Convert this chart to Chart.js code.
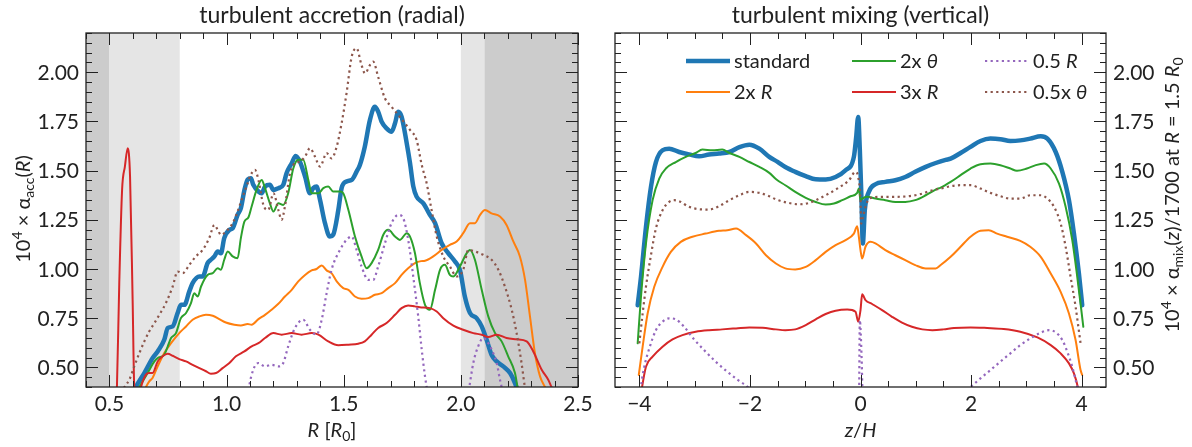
<!DOCTYPE html>
<html>
<head>
<meta charset="utf-8">
<script src="https://cdn.jsdelivr.net/npm/chart.js@4.4.1/dist/chart.umd.min.js"></script>
<style>
  body { margin: 0; background: #fff; width: 1192px; height: 447px; overflow: hidden; position: relative; }
  canvas { position: absolute; top: 0; }
  #accChart { left: 0; }
  #mixChart { left: 596px; }
</style>
</head>
<body>
<canvas id="accChart" width="596" height="447"></canvas>
<canvas id="mixChart" width="596" height="447"></canvas>
<script>
// ---------- left panel: turbulent accretion vs R ----------
const accStdR = [0.59,0.613,0.649,0.684,0.706,0.734,0.749,0.770,0.791,0.805,0.820,0.841,0.855,0.884,0.898,0.919,0.933,0.948,0.962,0.976,0.990,1.012,1.026,1.047,1.061,1.076,1.090,1.104,1.114,1.136,1.150,1.164,1.185,1.200,1.221,1.242,1.256,1.278,1.295,1.313,1.335,1.356,1.370,1.384,1.399,1.420,1.441,1.455,1.477,1.491,1.512,1.534,1.555,1.569,1.590,1.612,1.633,1.647,1.662,1.683,1.704,1.719,1.733,1.747,1.769,1.783,1.797,1.811,1.840,1.868,1.890,1.918,1.946,1.975,1.996,2.017,2.039,2.067,2.089,2.110,2.131,2.153,2.181,2.210,2.231,2.245];
const accStdV = [0.33,0.40,0.471,0.547,0.581,0.640,0.700,0.708,0.776,0.818,0.818,0.886,0.928,0.962,0.962,1.030,1.047,1.064,1.089,1.080,1.157,1.199,1.207,1.275,1.309,1.400,1.455,1.461,1.428,1.394,1.385,1.419,1.428,1.402,1.411,1.428,1.487,1.538,1.575,1.546,1.470,1.385,1.411,1.419,1.351,1.233,1.165,1.174,1.300,1.411,1.445,1.453,1.495,1.529,1.622,1.758,1.825,1.800,1.749,1.715,1.698,1.741,1.800,1.775,1.639,1.538,1.420,1.368,1.334,1.275,1.233,1.131,1.081,1.038,0.996,0.860,0.776,0.750,0.708,0.640,0.564,0.530,0.505,0.471,0.420,0.37];

const acc2xRR = [0.645,0.656,0.670,0.684,0.706,0.734,0.763,0.798,0.827,0.855,0.884,0.912,0.941,0.969,0.997,1.033,1.061,1.090,1.107,1.136,1.164,1.192,1.221,1.249,1.278,1.306,1.335,1.363,1.384,1.406,1.427,1.448,1.470,1.498,1.520,1.548,1.576,1.605,1.633,1.662,1.690,1.719,1.747,1.775,1.804,1.830,1.847,1.882,1.918,1.953,1.982,2.010,2.039,2.060,2.082,2.103,2.131,2.167,2.195,2.224,2.252,2.274,2.295,2.316,2.338,2.359,2.37];
const acc2xRV = [0.37,0.40,0.429,0.446,0.505,0.573,0.623,0.674,0.708,0.742,0.759,0.767,0.762,0.745,0.728,0.717,0.713,0.720,0.717,0.745,0.767,0.793,0.823,0.860,0.894,0.937,0.970,0.993,1.000,1.018,0.993,0.979,0.937,0.903,0.894,0.860,0.849,0.852,0.869,0.877,0.903,0.928,0.970,1.004,1.030,1.040,1.042,1.064,1.097,1.123,1.140,1.182,1.233,1.233,1.275,1.300,1.283,1.267,1.224,1.140,1.064,0.945,0.759,0.573,0.454,0.40,0.37];

const acc2xThR = [0.615,0.628,0.663,0.692,0.706,0.734,0.749,0.763,0.784,0.805,0.827,0.848,0.862,0.877,0.891,0.919,0.941,0.962,0.976,0.990,1.005,1.026,1.047,1.061,1.076,1.093,1.107,1.128,1.150,1.164,1.185,1.200,1.221,1.242,1.263,1.285,1.306,1.327,1.349,1.363,1.392,1.413,1.434,1.455,1.484,1.498,1.520,1.548,1.576,1.598,1.619,1.647,1.669,1.690,1.719,1.740,1.769,1.783,1.804,1.825,1.847,1.868,1.890,1.911,1.932,1.953,1.968,1.996,2.025,2.039,2.060,2.089,2.117,2.146,2.174,2.202,2.231,2.242,2.25];
const acc2xThV = [0.37,0.40,0.471,0.530,0.547,0.564,0.607,0.649,0.674,0.750,0.776,0.827,0.877,0.860,0.911,0.970,0.979,1.004,0.996,1.047,1.089,1.064,1.055,1.157,1.241,1.262,1.318,1.402,1.453,1.411,1.334,1.292,1.334,1.326,1.385,1.512,1.555,1.555,1.453,1.385,1.385,1.411,1.419,1.394,1.394,1.385,1.300,1.165,1.064,1.004,1.030,1.097,1.174,1.199,1.165,1.148,1.182,1.165,1.081,0.928,0.818,0.793,0.894,0.996,1.021,0.970,0.962,1.013,1.081,1.097,1.047,0.894,0.759,0.674,0.632,0.556,0.471,0.40,0.36];

const acc3xRR = [0.52,0.532,0.542,0.554,0.566,0.578,0.588,0.599,0.606,0.62,0.635,0.656,0.670,0.684,0.706,0.727,0.749,0.770,0.798,0.827,0.855,0.884,0.912,0.933,0.955,0.983,1.012,1.040,1.076,1.107,1.136,1.164,1.200,1.235,1.278,1.320,1.363,1.392,1.434,1.477,1.520,1.562,1.590,1.619,1.647,1.683,1.719,1.747,1.775,1.804,1.825,1.868,1.897,1.925,1.968,2.010,2.053,2.089,2.117,2.153,2.195,2.238,2.281,2.309,2.345,2.373,2.387,2.40];
const acc3xRV = [0.25,0.40,0.928,1.402,1.521,1.614,1.470,0.843,0.40,0.30,0.40,0.463,0.471,0.471,0.530,0.556,0.569,0.559,0.542,0.530,0.513,0.496,0.480,0.468,0.471,0.496,0.522,0.556,0.581,0.607,0.623,0.649,0.674,0.666,0.674,0.666,0.674,0.666,0.632,0.612,0.615,0.620,0.632,0.666,0.700,0.725,0.767,0.801,0.815,0.810,0.806,0.801,0.784,0.750,0.712,0.691,0.674,0.666,0.654,0.666,0.649,0.643,0.632,0.581,0.488,0.437,0.40,0.37];

const acc05RR = [1.085,1.096,1.114,1.136,1.164,1.192,1.221,1.242,1.263,1.292,1.327,1.356,1.384,1.406,1.427,1.448,1.484,1.512,1.534,1.555,1.576,1.605,1.626,1.647,1.676,1.704,1.733,1.754,1.775,1.797,1.818,1.833,1.847,1.854,1.87,1.95,2.02,2.036,2.053,2.074,2.096,2.117,2.138,2.153,2.167,2.174,2.19];
const acc05RV = [0.30,0.40,0.488,0.522,0.505,0.513,0.505,0.522,0.607,0.700,0.742,0.691,0.666,0.742,0.877,0.996,1.097,1.148,1.165,1.097,1.013,0.945,0.945,1.013,1.131,1.233,1.275,1.258,1.150,0.960,0.759,0.590,0.454,0.40,0.30,0.20,0.30,0.40,0.522,0.607,0.649,0.623,0.573,0.522,0.437,0.40,0.30];

const acc05ThR = [0.55,0.564,0.585,0.606,0.628,0.649,0.670,0.692,0.713,0.741,0.770,0.791,0.813,0.841,0.869,0.898,0.926,0.948,0.962,0.976,0.997,1.026,1.047,1.069,1.090,1.100,1.121,1.136,1.157,1.178,1.200,1.221,1.235,1.249,1.271,1.292,1.313,1.335,1.356,1.377,1.399,1.427,1.448,1.470,1.491,1.512,1.534,1.555,1.576,1.591,1.612,1.626,1.647,1.676,1.704,1.733,1.761,1.783,1.811,1.833,1.854,1.875,1.897,1.925,1.953,1.982,2.010,2.032,2.060,2.096,2.131,2.160,2.188,2.217,2.238,2.259,2.273,2.28];
const acc05ThV = [0.37,0.40,0.437,0.505,0.573,0.632,0.683,0.725,0.767,0.827,0.911,0.987,0.979,1.021,1.064,1.097,1.157,1.224,1.199,1.174,1.190,1.233,1.292,1.368,1.436,1.470,1.504,1.453,1.326,1.300,1.385,1.300,1.250,1.318,1.487,1.538,1.546,1.572,1.614,1.572,1.521,1.589,1.563,1.622,1.741,1.893,2.079,2.122,2.037,1.995,2.037,2.054,1.977,1.868,1.825,1.783,1.741,1.707,1.656,1.529,1.436,1.300,1.165,1.064,1.013,0.962,0.996,1.097,1.089,1.072,1.047,0.996,0.911,0.793,0.674,0.522,0.40,0.35];

const accTicksX = [0.5, 1.0, 1.5, 2.0, 2.5];
const accTicksY = [0.5, 0.75, 1.0, 1.25, 1.5, 1.75, 2.0];
const accShadeDark = [[0.4, 0.5], [2.1, 2.5]];
const accShadeLight = [[0.5, 0.8], [2.0, 2.1]];

// ---------- right panel: turbulent mixing vs z/H ----------
const mixStdZ = [-4.03,-3.97,-3.88,-3.79,-3.70,-3.58,-3.46,-3.28,-3.10,-2.92,-2.74,-2.56,-2.37,-2.19,-2.01,-1.83,-1.65,-1.50,-1.36,-1.18,-0.99,-0.81,-0.63,-0.45,-0.27,-0.12,-0.078,-0.042,-0.012,0.018,0.042,0.078,0.15,0.27,0.45,0.63,0.81,0.99,1.18,1.36,1.54,1.63,1.81,1.99,2.17,2.35,2.53,2.71,2.89,3.07,3.26,3.38,3.53,3.65,3.77,3.86,3.95,4.01];
const mixStdV = [0.816,0.960,1.214,1.417,1.544,1.604,1.612,1.595,1.583,1.573,1.582,1.587,1.595,1.620,1.632,1.612,1.570,1.545,1.519,1.494,1.472,1.456,1.455,1.468,1.502,1.570,1.671,1.773,1.604,1.350,1.130,1.300,1.392,1.431,1.443,1.451,1.468,1.494,1.519,1.539,1.555,1.561,1.590,1.621,1.651,1.663,1.660,1.651,1.654,1.663,1.675,1.663,1.595,1.494,1.350,1.180,0.977,0.816];

const mix2xRZ = [-4.01,-3.94,-3.85,-3.73,-3.58,-3.43,-3.25,-3.04,-2.80,-2.56,-2.41,-2.25,-2.07,-1.89,-1.71,-1.53,-1.36,-1.18,-0.99,-0.81,-0.63,-0.45,-0.27,-0.12,-0.06,-0.03,0.0,0.03,0.09,0.18,0.27,0.45,0.63,0.81,0.99,1.18,1.36,1.45,1.63,1.81,1.99,2.17,2.32,2.47,2.65,2.89,3.07,3.26,3.44,3.62,3.77,3.89,3.98,4.01];
const mix2xRV = [0.461,0.605,0.774,0.910,1.011,1.087,1.138,1.164,1.180,1.194,1.197,1.206,1.172,1.130,1.070,1.028,1.003,0.998,1.011,1.045,1.087,1.121,1.147,1.180,1.218,1.164,1.096,1.053,1.113,1.138,1.130,1.096,1.070,1.045,1.020,1.003,1.003,1.020,1.062,1.113,1.164,1.194,1.197,1.180,1.164,1.143,1.113,1.062,0.977,0.884,0.774,0.639,0.486,0.461];

const mix2xThZ = [-4.03,-3.97,-3.88,-3.76,-3.64,-3.52,-3.34,-3.16,-2.98,-2.86,-2.68,-2.50,-2.37,-2.19,-2.01,-1.83,-1.65,-1.52,-1.36,-1.18,-0.99,-0.81,-0.63,-0.48,-0.33,-0.18,-0.06,-0.03,0.0,0.03,0.12,0.27,0.45,0.63,0.81,0.99,1.18,1.36,1.45,1.63,1.81,1.99,2.17,2.35,2.53,2.71,2.83,3.01,3.17,3.32,3.44,3.59,3.71,3.83,3.92,4.03];
const mix2xThV = [0.622,0.859,1.130,1.350,1.460,1.511,1.544,1.570,1.590,1.607,1.604,1.607,1.590,1.570,1.544,1.519,1.489,1.455,1.426,1.392,1.362,1.341,1.328,1.333,1.350,1.370,1.387,1.409,1.350,1.358,1.367,1.358,1.350,1.341,1.341,1.350,1.375,1.404,1.414,1.443,1.477,1.511,1.533,1.536,1.528,1.511,1.499,1.511,1.528,1.536,1.511,1.434,1.316,1.147,0.960,0.706];

const mix3xRZ = [-4.0,-3.95,-3.88,-3.76,-3.58,-3.40,-3.22,-2.98,-2.74,-2.50,-2.25,-2.01,-1.77,-1.53,-1.36,-1.18,-0.99,-0.81,-0.63,-0.45,-0.24,-0.09,-0.042,0.0,0.03,0.09,0.21,0.39,0.57,0.75,0.93,1.12,1.30,1.50,1.69,1.99,2.29,2.59,2.89,3.20,3.44,3.62,3.77,3.86,3.93,4.0];
const mix3xRV = [0.30,0.40,0.503,0.554,0.605,0.642,0.664,0.681,0.689,0.693,0.698,0.703,0.701,0.693,0.689,0.693,0.715,0.744,0.771,0.788,0.794,0.783,0.732,0.791,0.871,0.842,0.822,0.791,0.757,0.727,0.706,0.693,0.689,0.693,0.700,0.703,0.700,0.695,0.681,0.652,0.613,0.571,0.520,0.469,0.40,0.28];

const mix05RZ = [-4.0,-3.97,-3.91,-3.82,-3.70,-3.58,-3.46,-3.34,-3.19,-3.01,-2.83,-2.62,-2.41,-2.22,-2.04,-1.83,-1.0,-0.3,-0.03,-0.012,0.02,0.045,0.3,1.0,1.8,1.99,2.17,2.35,2.53,2.71,2.89,3.07,3.26,3.41,3.53,3.65,3.74,3.83,3.89,3.92,3.98];
const mix05RV = [0.30,0.40,0.503,0.596,0.689,0.732,0.749,0.744,0.706,0.642,0.588,0.529,0.478,0.436,0.40,0.33,0.20,0.20,0.25,0.74,0.55,0.30,0.20,0.20,0.36,0.40,0.444,0.486,0.529,0.571,0.613,0.647,0.676,0.689,0.678,0.639,0.579,0.503,0.436,0.40,0.30];

const mix05ThZ = [-4.0,-3.94,-3.88,-3.79,-3.70,-3.58,-3.46,-3.37,-3.28,-3.10,-2.92,-2.74,-2.56,-2.37,-2.19,-2.01,-1.83,-1.65,-1.52,-1.30,-1.12,-0.93,-0.75,-0.57,-0.39,-0.21,-0.09,-0.042,0.0,0.012,0.03,0.12,0.21,0.39,0.63,0.87,1.06,1.30,1.45,1.63,1.81,1.99,2.17,2.35,2.53,2.71,2.89,3.07,3.26,3.38,3.50,3.62,3.71,3.80,3.89,3.98];
const mix05ThV = [0.622,0.774,0.910,1.070,1.206,1.299,1.341,1.350,1.345,1.316,1.304,1.302,1.319,1.350,1.375,1.392,1.387,1.370,1.353,1.336,1.329,1.336,1.358,1.384,1.414,1.451,1.494,1.468,1.350,1.231,1.248,1.341,1.363,1.367,1.367,1.370,1.379,1.400,1.409,1.421,1.426,1.426,1.409,1.387,1.370,1.358,1.358,1.375,1.375,1.358,1.316,1.231,1.113,0.960,0.808,0.622];

const mixTicksX = [-4, -2, 0, 2, 4];
const mixTicksY = [0.5, 0.75, 1.0, 1.25, 1.5, 1.75, 2.0];

// legend entries, column-major like the picture
const legendLabels = [
  [['standard', 'n']],
  [['2x ', 'n'], ['R', 'i']],
  [['2x ', 'n'], ['\u03b8', 'i']],
  [['3x ', 'n'], ['R', 'i']],
  [['0.5 ', 'n'], ['R', 'i']],
  [['0.5x ', 'n'], ['\u03b8', 'i']]
];

const FONT = 'Lato, "DejaVu Sans", sans-serif';
const INK = '#222222';
const C = {
  blue: '#1f77b4', orange: '#ff7f0e', green: '#2ca02c',
  red: '#d62728', purple: '#9467bd', brown: '#8c564b'
};

function pts(xs, ys) {
  return xs.map((x, i) => ({ x: x, y: ys[i] }));
}

function series(label, xs, ys, color, width, dotted, order) {
  return {
    label: label,
    data: pts(xs, ys),
    borderColor: color,
    backgroundColor: color,
    borderWidth: width,
    borderDash: dotted ? [2.2, 3.4] : [],
    borderCapStyle: dotted ? 'butt' : 'round',
    borderJoinStyle: 'round',
    pointRadius: 0,
    fill: false,
    clip: 0,
    order: order
  };
}

// rich text: parts = [[text, kind]], kind n | i | sup | sub
function partFont(kind, size) {
  if (kind === 'i') return 'italic ' + size + 'px ' + FONT;
  if (kind === 'sup' || kind === 'sub') return Math.round(size * 0.7) + 'px ' + FONT;
  return size + 'px ' + FONT;
}
function richWidth(ctx, parts, size) {
  let w = 0;
  parts.forEach(p => { ctx.font = partFont(p[1], size); w += ctx.measureText(p[0]).width; });
  return w;
}
function drawRich(ctx, parts, x, y, size, align) {
  const w = richWidth(ctx, parts, size);
  let cx = align === 'left' ? x : align === 'right' ? x - w : x - w / 2;
  ctx.textAlign = 'left';
  ctx.textBaseline = 'alphabetic';
  parts.forEach(p => {
    ctx.font = partFont(p[1], size);
    let dy = 0;
    if (p[1] === 'sup') dy = -size * 0.42;
    if (p[1] === 'sub') dy = size * 0.22;
    ctx.fillText(p[0], cx, y + dy);
    cx += ctx.measureText(p[0]).width;
  });
}

function shadePlugin(dark, light) {
  return {
    id: 'shade',
    beforeDatasetsDraw(chart) {
      const { ctx, chartArea: a, scales: { x } } = chart;
      ctx.save();
      const band = (r, col) => {
        const x0 = x.getPixelForValue(r[0]), x1 = x.getPixelForValue(r[1]);
        ctx.fillStyle = col;
        ctx.fillRect(x0, a.top, x1 - x0, a.bottom - a.top);
      };
      dark.forEach(r => band(r, '#cccccc'));
      light.forEach(r => band(r, '#e5e5e5'));
      ctx.restore();
    }
  };
}

// frame, inward ticks on four sides, tick labels, titles
function framePlugin(cfg) {
  return {
    id: 'frame',
    afterDatasetsDraw(chart) {
      const { ctx, chartArea: a, scales: { x, y } } = chart;
      ctx.save();
      ctx.strokeStyle = INK;
      ctx.fillStyle = INK;
      ctx.lineWidth = 1;
      const tick = (x0, y0, x1, y1) => { ctx.beginPath(); ctx.moveTo(x0, y0); ctx.lineTo(x1, y1); ctx.stroke(); };
      const inRange = (v, s) => v >= s.min - 1e-9 && v <= s.max + 1e-9;
      // x ticks
      for (let v = Math.ceil(x.min / cfg.minorX) * cfg.minorX; v <= x.max + 1e-9; v += cfg.minorX) {
        const px = Math.round(x.getPixelForValue(v)) + 0.5;
        const major = cfg.ticksX.some(t => Math.abs(t - v) < 1e-6);
        const L = major ? 12 : 6;
        tick(px, a.bottom, px, a.bottom - L);
        tick(px, a.top, px, a.top + L);
      }
      for (let v = Math.ceil(y.min / cfg.minorY - 1e-9) * cfg.minorY; v <= y.max + 1e-9; v += cfg.minorY) {
        const py = Math.round(y.getPixelForValue(v)) + 0.5;
        const major = cfg.ticksY.some(t => Math.abs(t - v) < 1e-6);
        const L = major ? 12 : 6;
        tick(a.left, py, a.left + L, py);
        tick(a.right, py, a.right - L, py);
      }
      ctx.lineWidth = 1.3;
      ctx.strokeRect(a.left, a.top, a.right - a.left, a.bottom - a.top);

      // tick labels
      ctx.font = '21px ' + FONT;
      ctx.textBaseline = 'alphabetic';
      ctx.textAlign = 'center';
      cfg.ticksX.forEach(v => {
        if (!inRange(v, x)) return;
        ctx.fillText(cfg.fmtX(v), x.getPixelForValue(v), a.bottom + 24);
      });
      cfg.ticksY.forEach(v => {
        const py = y.getPixelForValue(v) + 7.5;
        if (cfg.ySide === 'left') { ctx.textAlign = 'right'; ctx.fillText(v.toFixed(2), a.left - 7, py); }
        else { ctx.textAlign = 'left'; ctx.fillText(v.toFixed(2), a.right + 7, py); }
      });

      // title
      ctx.textAlign = 'center';
      ctx.font = '23px ' + FONT;
      ctx.fillText(cfg.title, (a.left + a.right) / 2, 23);

      // x label
      drawRich(ctx, cfg.xLabel, (a.left + a.right) / 2, 437, 20, 'center');

      // y label, rotated
      ctx.save();
      ctx.translate(cfg.yLabelX, cfg.yLabelY);
      ctx.rotate(-Math.PI / 2);
      drawRich(ctx, cfg.yLabel, 0, 0, 20, 'center');
      ctx.restore();

      if (cfg.legend) cfg.legend(ctx);
      ctx.restore();
    }
  };
}

function drawLegend(ctx) {
  const cols = [90, 256, 389];
  const rows = [61, 92];
  const styles = [
    [C.blue, 4.5, false], [C.orange, 2, false],
    [C.green, 2, false], [C.red, 2, false],
    [C.purple, 2.2, true], [C.brown, 2.2, true]
  ];
  legendLabels.forEach((lab, i) => {
    const cx = cols[Math.floor(i / 2)], ry = rows[i % 2];
    const st = styles[i];
    ctx.save();
    ctx.strokeStyle = st[0];
    ctx.lineWidth = st[1];
    ctx.setLineDash(st[2] ? [2.2, 3.4] : []);
    ctx.lineCap = 'butt';
    ctx.beginPath();
    ctx.moveTo(cx, ry);
    ctx.lineTo(cx + 44, ry);
    ctx.stroke();
    ctx.restore();
    ctx.fillStyle = INK;
    drawRich(ctx, lab, cx + 48, ry + 7, 20, 'left');
  });
}

const baseOptions = (pad, xr) => ({
  responsive: false,
  animation: false,
  events: [],
  layout: { padding: pad },
  elements: { line: { cubicInterpolationMode: 'monotone' }, point: { radius: 0 } },
  plugins: { legend: { display: false }, tooltip: { enabled: false }, title: { display: false } },
  scales: {
    x: { type: 'linear', min: xr[0], max: xr[1], display: false },
    y: { type: 'linear', min: 0.4, max: 2.2, display: false }
  }
});

new Chart(document.getElementById('accChart'), {
  type: 'line',
  data: {
    datasets: [
      series('0.5x \u03b8', acc05ThR, acc05ThV, C.brown, 2.2, true, 1),
      series('0.5 R', acc05RR, acc05RV, C.purple, 2.2, true, 2),
      series('3x R', acc3xRR, acc3xRV, C.red, 2, false, 3),
      series('2x \u03b8', acc2xThR, acc2xThV, C.green, 2, false, 4),
      series('2x R', acc2xRR, acc2xRV, C.orange, 2, false, 5),
      series('standard', accStdR, accStdV, C.blue, 4.5, false, 6)
    ]
  },
  options: baseOptions({ left: 86, right: 18, top: 33, bottom: 60 }, [0.4, 2.5]),
  plugins: [
    shadePlugin(accShadeDark, accShadeLight),
    framePlugin({
      ticksX: accTicksX, ticksY: accTicksY, minorX: 0.1, minorY: 0.05,
      fmtX: v => v.toFixed(1), ySide: 'left',
      title: 'turbulent accretion (radial)',
      xLabel: [['R', 'i'], [' [', 'n'], ['R', 'i'], ['0', 'sub'], [']', 'n']],
      yLabel: [['10', 'n'], ['4', 'sup'], [' \u00d7 \u03b1', 'n'], ['acc', 'sub'], ['(', 'n'], ['R', 'i'], [')', 'n']],
      yLabelX: 30, yLabelY: 209
    })
  ]
});

new Chart(document.getElementById('mixChart'), {
  type: 'line',
  data: {
    datasets: [
      series('0.5x \u03b8', mix05ThZ, mix05ThV, C.brown, 2.2, true, 1),
      series('0.5 R', mix05RZ, mix05RV, C.purple, 2.2, true, 2),
      series('3x R', mix3xRZ, mix3xRV, C.red, 2, false, 3),
      series('2x \u03b8', mix2xThZ, mix2xThV, C.green, 2, false, 4),
      series('2x R', mix2xRZ, mix2xRV, C.orange, 2, false, 5),
      series('standard', mixStdZ, mixStdV, C.blue, 4.5, false, 6)
    ]
  },
  options: baseOptions({ left: 19, right: 86, top: 33, bottom: 60 }, [-4.44, 4.44]),
  plugins: [
    framePlugin({
      ticksX: mixTicksX, ticksY: mixTicksY, minorX: 0.5, minorY: 0.05,
      fmtX: v => (v < 0 ? '\u2212' + Math.abs(v) : String(v)), ySide: 'right',
      title: 'turbulent mixing (vertical)',
      xLabel: [['z', 'i'], ['/', 'n'], ['H', 'i']],
      yLabel: [['10', 'n'], ['4', 'sup'], [' \u00d7 \u03b1', 'n'], ['mix', 'sub'], ['(', 'n'], ['z', 'i'], [')/1700 at ', 'n'], ['R', 'i'], [' = 1.5 ', 'n'], ['R', 'i'], ['0', 'sub']],
      yLabelX: 583, yLabelY: 195,
      legend: drawLegend
    })
  ]
});
</script>
</body>
</html>
